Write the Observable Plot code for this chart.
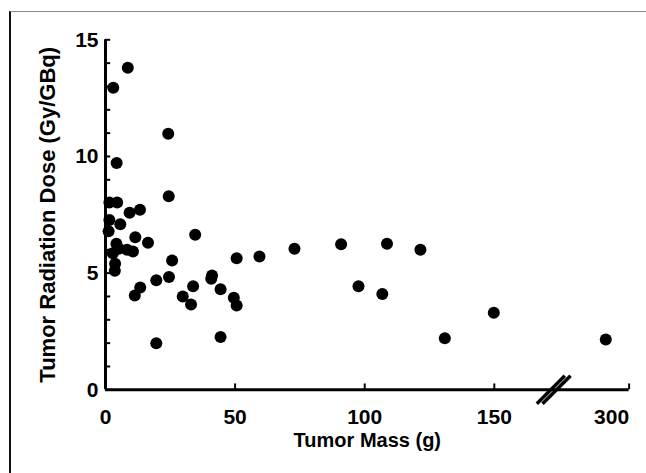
<!DOCTYPE html>
<html>
<head>
<meta charset="utf-8">
<script src="https://cdn.jsdelivr.net/npm/d3@7"></script>
<script src="https://cdn.jsdelivr.net/npm/@observablehq/plot@0.6"></script>
<style>
  html, body { margin: 0; padding: 0; background: #fff; }
  #wrap { position: relative; width: 646px; height: 473px; overflow: hidden; }
  #frame { position: absolute; left: 9px; top: 11px; right: -2px; bottom: -4px;
           border-left: 2px solid #111; border-top: 1.5px solid #8a8a8a; pointer-events: none; }
  svg { display: block; }
</style>
</head>
<body>
<div id="wrap"><div id="frame"></div></div>
<script>
// ---- data ----
const tumorMass = [8.6, 3.0, 24.2, 4.3, 24.4, 1.5, 4.5, 9.3, 13.3, 1.5, 5.7, 1.2, 11.5, 16.4, 34.6,
  4.2, 5.1, 8.3, 10.6, 2.8, 3.7, 3.6, 25.7, 50.6, 59.4, 72.9, 90.9, 108.6, 121.5, 19.6, 24.5,
  41.1, 40.8, 13.4, 11.3, 33.8, 44.4, 29.8, 33.0, 49.5, 50.6, 97.6, 106.8, 149.8, 19.6, 44.4,
  130.9, 291];
const radiationDose = [13.8, 12.95, 10.97, 9.72, 8.3, 8.03, 8.03, 7.59, 7.72, 7.28, 7.1, 6.8, 6.54, 6.3, 6.64,
  6.26, 6.04, 6.0, 5.93, 5.85, 5.4, 5.1, 5.54, 5.64, 5.71, 6.04, 6.24, 6.26, 6.0, 4.7, 4.83,
  4.9, 4.76, 4.38, 4.04, 4.44, 4.31, 4.0, 3.66, 3.94, 3.61, 4.44, 4.11, 3.3, 2.0, 2.26,
  2.21, 2.16];
const xTickValues = [0, 50, 100, 150, 300];
const yTickValues = [0, 5, 10, 15];
const yMinorTicks = d3.range(0, 16);
const xTitle = "Tumor Mass (g)";
const yTitle = "Tumor Radiation Dose (Gy/GBq)";
// axis break: values above breakStart are shifted left by breakShift
const breakStart = 170, breakShift = 98, breakAt = [173];
const xMax = 300, yDomain = [0, 15];

const disp = m => (m > breakStart ? m - breakShift : m);
const data = tumorMass.map((m, i) => ({mass: m, dose: radiationDose[i]}));

const font = "'Liberation Sans', Arial, Helvetica, sans-serif";
const xEnd = disp(xMax);
const xMajor = xTickValues.filter(v => v !== xMax);

const chart = Plot.plot({
  width: 646,
  height: 473,
  marginLeft: 105,
  marginRight: 17.4,
  marginTop: 39.3,
  marginBottom: 83.7,
  style: {fontFamily: font, background: "transparent", overflow: "visible"},
  x: {domain: [0, xEnd], axis: null},
  y: {domain: yDomain, axis: null},
  marks: [
    // y axis line and inward ticks
    Plot.ruleX([0], {y1: yDomain[0], y2: yDomain[1], stroke: "#000", strokeWidth: 3}),
    Plot.ruleY(yMinorTicks, {x1: 0, x2: 2, stroke: "#000", strokeWidth: 2}),
    // x axis line
    Plot.ruleY([0], {x1: 0, x2: xEnd, stroke: "#000", strokeWidth: 3}),
    Plot.ruleX(xTickValues.filter(v => v !== 0).map(disp), {y1: 0, y2: 0.25, stroke: "#000", strokeWidth: 2}),
    // axis break marks
    Plot.link(breakAt, {x1: d => d - 6.6, x2: d => d + 4.2, y1: -0.6, y2: 0.6, stroke: "#000", strokeWidth: 3.4}),
    Plot.link(breakAt, {x1: d => d - 4.4, x2: d => d + 6.4, y1: -0.6, y2: 0.6, stroke: "#000", strokeWidth: 3.4}),
    // tick labels
    Plot.text(yTickValues, {x: 0, y: d => d, text: d => String(d), dx: -7, textAnchor: "end",
      fontSize: 21, fontWeight: "bold", fill: "#000"}),
    Plot.text(xMajor, {x: d => disp(d), y: 0, text: d => String(d), dy: 27, textAnchor: "middle",
      fontSize: 21, fontWeight: "bold", fill: "#000"}),
    Plot.text([xMax], {x: d => disp(d), y: 0, text: d => String(d), dy: 27, textAnchor: "end",
      fontSize: 21, fontWeight: "bold", fill: "#000"}),
    // axis titles
    Plot.text([xTitle], {frameAnchor: "bottom", dy: 57, text: d => d, textAnchor: "middle",
      fontSize: 20, fontWeight: "bold", fill: "#000"}),
    Plot.text([yTitle], {frameAnchor: "left", dx: -58, rotate: -90, text: d => d, textAnchor: "middle",
      fontSize: 22, fontWeight: "bold", fill: "#000"}),
    // data
    Plot.dot(data, {x: d => disp(d.mass), y: "dose", r: 6, fill: "#000", stroke: "none"})
  ]
});
document.getElementById("wrap").prepend(chart);
</script>
</body>
</html>
